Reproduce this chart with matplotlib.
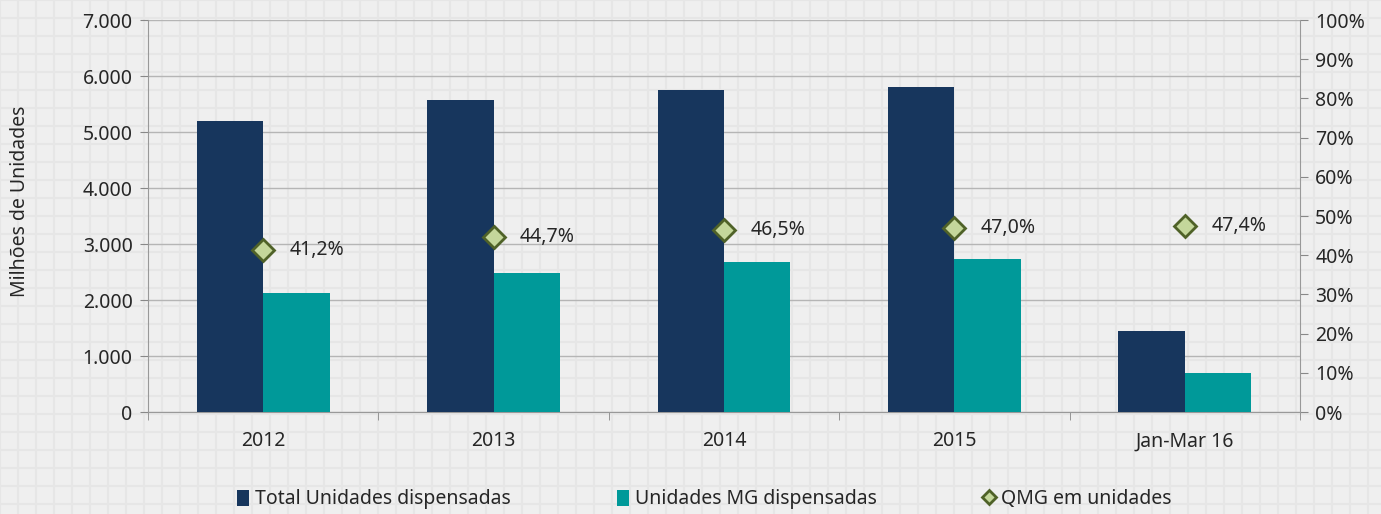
import matplotlib
matplotlib.use("Agg")
import matplotlib.pyplot as plt
import numpy as np

plt.rcParams['font.family'] = ['Noto Sans', 'DejaVu Sans']

# dados
categorias = ["2012", "2013", "2014", "2015", "Jan-Mar 16"]
total_unidades = [5200, 5570, 5750, 5800, 1450]
mg_unidades = [2130, 2480, 2680, 2730, 700]
qmg_pct = [41.2, 44.7, 46.5, 47.0, 47.4]

cor_total = "#17365d"
cor_mg = "#009999"
cor_txt = "#262626"
fs = 14

fig = plt.figure(figsize=(13.81, 5.14), dpi=100)
fig.patch.set_facecolor("#efefef")

# fundo quadriculado
bg = fig.add_axes([0, 0, 1, 1], zorder=-10)
bg.set_xlim(0, 1381)
bg.set_ylim(514, 0)
bg.axis("off")
for xv in np.arange(0, 1381, 18):
    bg.axvline(xv, color="#e6e6e6", lw=1.5)
for yv in np.arange(0, 514, 18):
    bg.axhline(yv, color="#e6e6e6", lw=1.5)

ax = fig.add_axes([148 / 1381, 102 / 514, 1152 / 1381, 392 / 514])
ax.patch.set_alpha(0)
x = np.arange(len(categorias))
w = 0.288
ax.bar(x - w / 2, total_unidades, w, color=cor_total, zorder=3,
       label="Total Unidades dispensadas")
ax.bar(x + w / 2, mg_unidades, w, color=cor_mg, zorder=3,
       label="Unidades MG dispensadas")

ax.set_xlim(-0.5, len(categorias) - 0.5)
ax.set_ylim(0, 7000)
ax.set_yticks(np.arange(0, 7001, 1000))
ax.set_yticklabels([f"{v:,}".replace(",", ".") for v in range(0, 7001, 1000)])
ax.yaxis.grid(True, color="#b5b5b5", lw=1, zorder=0)
ax.set_axisbelow(True)
ax.set_xticks(x)
ax.set_xticklabels(categorias)
ax.set_xticks(np.arange(-0.5, len(categorias)), minor=True)
ax.tick_params(axis="x", which="major", length=0, pad=14, labelsize=fs, colors=cor_txt)
ax.tick_params(axis="x", which="minor", length=6, color="#888888")
ax.tick_params(axis="y", length=6, color="#888888", labelsize=fs, labelcolor=cor_txt, pad=5)
for s in ["top", "right"]:
    ax.spines[s].set_visible(False)
for s in ["left", "bottom"]:
    ax.spines[s].set_color("#999999")
ax.set_ylabel("Milhões de Unidades", fontsize=fs, color=cor_txt, fontweight="medium")
ax.yaxis.set_label_coords(-0.1024, 0.538)

ax2 = ax.twinx()
ax2.set_ylim(0, 100)
ax2.set_yticks(np.arange(0, 101, 10))
ax2.set_yticklabels([f"{v}%" for v in range(0, 101, 10)])
ax2.tick_params(axis="y", length=6, color="#888888", labelsize=fs, labelcolor=cor_txt, pad=5)
for s in ["top", "left", "bottom"]:
    ax2.spines[s].set_visible(False)
ax2.spines["right"].set_color("#999999")
ax2.plot(x, qmg_pct, linestyle="none", marker="D", markersize=11,
         markerfacecolor="#c4d79b", markeredgecolor="#4f6228", markeredgewidth=2,
         zorder=5, label="QMG em unidades")
for xi, p in zip(x, qmg_pct):
    ax2.annotate(f"{p:.1f}%".replace(".", ","), (xi, p), xytext=(19, 0),
                 textcoords="offset points", va="center", ha="left",
                 fontsize=fs, color=cor_txt)

h1, l1 = ax.get_legend_handles_labels()
h2, l2 = ax2.get_legend_handles_labels()
fig.legend(h1 + h2, l1 + l2, loc="lower center", bbox_to_anchor=(0.51, -0.025), ncol=3,
           frameon=False, fontsize=fs, columnspacing=5.5, handlelength=0.6,
           handleheight=0.9, handletextpad=0.3, labelcolor=cor_txt, markerscale=0.65)

fig.savefig("out.png", dpi=100, facecolor=fig.get_facecolor())
